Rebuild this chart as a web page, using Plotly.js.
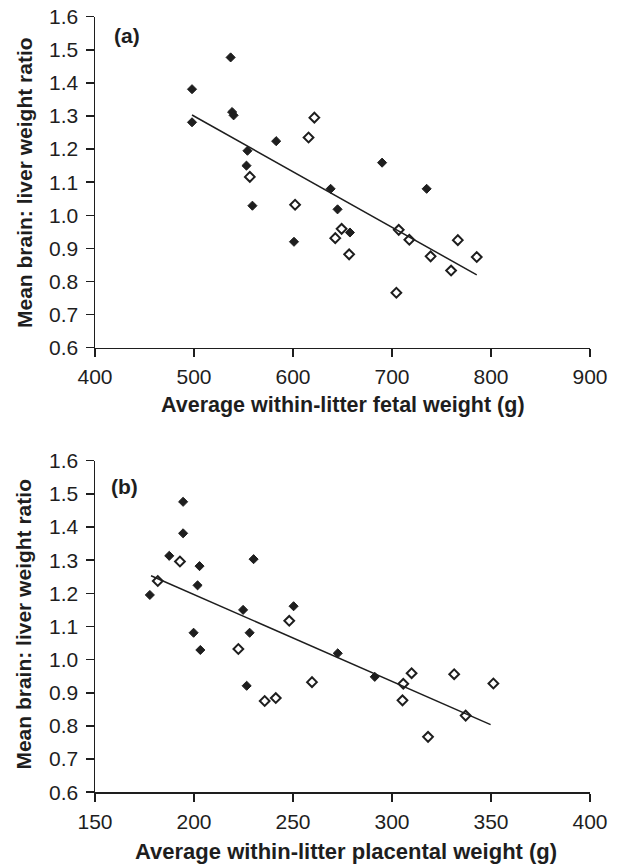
<!DOCTYPE html>
<html>
<head>
<meta charset="utf-8">
<script src="https://cdn.plot.ly/plotly-3.0.1.min.js"></script>
<style>html,body{margin:0;padding:0;background:#fff;}#chart{width:619px;height:864px;}</style>
</head>
<body>
<div id="chart"></div>
<script>
// Panel (a): fetal weight vs brain:liver ratio
const aFilledX = [498, 498, 537, 538.5, 540, 554, 553, 559, 583, 601, 638, 645, 657.5, 690, 735];
const aFilledY = [1.381, 1.281, 1.477, 1.312, 1.302, 1.195, 1.150, 1.029, 1.224, 0.920, 1.080, 1.018, 0.948, 1.159, 1.080];
const aOpenX = [621.6, 615.7, 556.4, 602.1, 649.1, 642.7, 656.7, 706.8, 717.5, 739, 759.7, 766.5, 785.6, 704.4];
const aOpenY = [1.295, 1.235, 1.116, 1.032, 0.959, 0.931, 0.882, 0.956, 0.926, 0.876, 0.833, 0.925, 0.874, 0.766];
const aFitX = [498, 785.6];
const aFitY = [1.303, 0.820];

// Panel (b): placental weight vs brain:liver ratio
const bFilledX = [194.5, 194.5, 187.5, 202.8, 230.1, 201.8, 177.7, 224.8, 250.3, 199.8, 228.1, 203.2, 226.6, 272.6, 291.3];
const bFilledY = [1.476, 1.381, 1.313, 1.282, 1.303, 1.224, 1.195, 1.150, 1.161, 1.081, 1.081, 1.029, 0.921, 1.019, 0.948];
const bOpenX = [192.9, 181.7, 248.1, 222.4, 235.7, 241.3, 259.6, 305.7, 309.9, 305.3, 331.4, 337.2, 318.2, 351.2];
const bOpenY = [1.296, 1.237, 1.117, 1.032, 0.875, 0.884, 0.932, 0.927, 0.959, 0.877, 0.956, 0.831, 0.767, 0.928];
const bFitX = [178.3, 349.8];
const bFitY = [1.253, 0.804];

const yTitle = 'Mean brain: liver weight ratio';
const aXTitle = 'Average within-litter fetal weight (g)';
const bXTitle = 'Average within-litter placental weight (g)';

const ink = '#1e1e1e';
const FONT = '"Liberation Sans", Arial, Helvetica, sans-serif';

function filled(x, y, xa, ya) {
  return {x: x, y: y, xaxis: xa, yaxis: ya, type: 'scatter', mode: 'markers',
    marker: {symbol: 'diamond', size: 7, color: ink, line: {color: ink, width: 1}}};
}
function open(x, y, xa, ya) {
  return {x: x, y: y, xaxis: xa, yaxis: ya, type: 'scatter', mode: 'markers',
    marker: {symbol: 'diamond-open', size: 7.5, color: ink, line: {color: ink, width: 2}}};
}
function fit(x, y, xa, ya) {
  return {x: x, y: y, xaxis: xa, yaxis: ya, type: 'scatter', mode: 'lines',
    line: {color: ink, width: 1.5}};
}

const data = [
  fit(aFitX, aFitY, 'x', 'y'),
  filled(aFilledX, aFilledY, 'x', 'y'),
  open(aOpenX, aOpenY, 'x', 'y'),
  fit(bFitX, bFitY, 'x2', 'y2'),
  filled(bFilledX, bFilledY, 'x2', 'y2'),
  open(bOpenX, bOpenY, 'x2', 'y2')
];

function xAxis(range, dtick, domain, anchor) {
  return {domain: domain, anchor: anchor, range: range, dtick: dtick, tick0: 0,
    showgrid: false, zeroline: false, showline: true, linecolor: ink, linewidth: 1.5,
    ticks: 'outside', ticklen: 8, tickwidth: 1.5, tickcolor: ink, ticklabelstandoff: 2,
    tickfont: {family: FONT, size: 21, color: ink}, fixedrange: true, automargin: false};
}
function yAxis(domain, anchor) {
  return {domain: domain, anchor: anchor, range: [0.6, 1.6], dtick: 0.1, tick0: 0.6,
    tickformat: '.1f', showgrid: false, zeroline: false, showline: true, linecolor: ink, linewidth: 1.5,
    ticks: 'outside', ticklen: 8, tickwidth: 1.5, tickcolor: ink, ticklabelstandoff: 3,
    tickfont: {family: FONT, size: 21, color: ink}, fixedrange: true, automargin: false};
}

const xDom = [95/619, 590/619];
const layout = {
  width: 619, height: 864,
  margin: {l: 0, r: 0, t: 0, b: 0},
  paper_bgcolor: '#fff', plot_bgcolor: '#fff',
  showlegend: false, hovermode: false,
  xaxis: xAxis([400, 900], 100, xDom, 'y'),
  yaxis: yAxis([1 - 347.7/864, 1 - 16.7/864], 'x'),
  xaxis2: xAxis([150, 400], 50, xDom, 'y2'),
  yaxis2: yAxis([1 - 792.2/864, 1 - 460.7/864], 'x2'),
  annotations: [
    {text: '<b>' + aXTitle + '</b>', xref: 'paper', yref: 'paper', x: 343.5/619, y: 1 - 405/864,
     xanchor: 'center', yanchor: 'middle', showarrow: false, font: {family: FONT, size: 21.5, color: ink}},
    {text: '<b>' + yTitle + '</b>', xref: 'paper', yref: 'paper', x: 24/619, y: 1 - 183/864,
     xanchor: 'center', yanchor: 'middle', textangle: -90, showarrow: false, font: {family: FONT, size: 21, color: ink}},
    {text: '<b>(a)</b>', xref: 'paper', yref: 'paper', x: 127/619, y: 1 - 36/864,
     xanchor: 'center', yanchor: 'middle', showarrow: false, font: {family: FONT, size: 21, color: ink}},
    {text: '<b>' + bXTitle + '</b>', xref: 'paper', yref: 'paper', x: 346/619, y: 1 - 851/864,
     xanchor: 'center', yanchor: 'middle', showarrow: false, font: {family: FONT, size: 22, color: ink}},
    {text: '<b>' + yTitle + '</b>', xref: 'paper', yref: 'paper', x: 24/619, y: 1 - 624.6/864,
     xanchor: 'center', yanchor: 'middle', textangle: -90, showarrow: false, font: {family: FONT, size: 21, color: ink}},
    {text: '<b>(b)</b>', xref: 'paper', yref: 'paper', x: 125/619, y: 1 - 486/864,
     xanchor: 'center', yanchor: 'middle', showarrow: false, font: {family: FONT, size: 21, color: ink}}
  ]
};

Plotly.newPlot('chart', data, layout, {displayModeBar: false, staticPlot: true});
</script>
</body>
</html>
